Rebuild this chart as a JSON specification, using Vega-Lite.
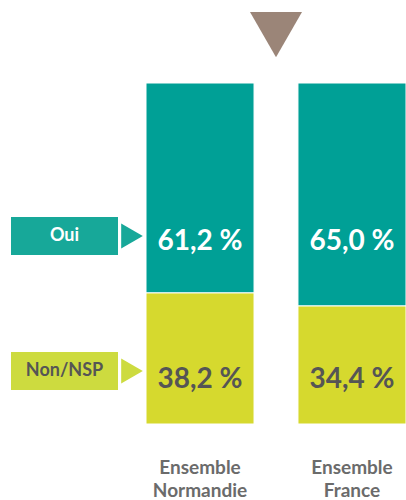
{
  "$schema": "https://vega.github.io/schema/vega-lite/v6.json",
  "padding": {"left": 11, "top": 12, "right": 0, "bottom": 2},
  "bounds": "flush",
  "spacing": 0,
  "config": {
    "view": {"stroke": null},
    "font": "Lato",
    "locale": {
      "number": {
        "decimal": ",",
        "thousands": "\u00a0",
        "grouping": [3],
        "currency": ["", "\u00a0€"],
        "percent": "\u00a0%"
      }
    }
  },
  "datasets": {
    "resultats": [
      {"groupe": "Ensemble Normandie", "reponse": "Oui", "part": 0.612},
      {"groupe": "Ensemble Normandie", "reponse": "Non/NSP", "part": 0.382},
      {"groupe": "Ensemble France", "reponse": "Oui", "part": 0.650},
      {"groupe": "Ensemble France", "reponse": "Non/NSP", "part": 0.344}
    ],
    "reponses": [
      {"reponse": "Oui"},
      {"reponse": "Non/NSP"}
    ],
    "repere": [
      {"repere": "écart"}
    ]
  },
  "hconcat": [
    {
      "width": 107,
      "height": 341,
      "data": {"name": "reponses"},
      "encoding": {
        "y": {
          "field": "reponse",
          "type": "nominal",
          "sort": ["Oui", "Non/NSP"],
          "axis": null,
          "scale": {"type": "band", "domain": ["Oui", "Non/NSP"], "paddingInner": 0.71852, "paddingOuter": 0.62222, "align": 0.79762}
        }
      },
      "layer": [
        {
          "mark": {"type": "bar"},
          "encoding": {
            "color": {
              "field": "reponse",
              "type": "nominal",
              "legend": null,
              "scale": {"domain": ["Oui", "Non/NSP"], "range": ["#17a899", "#cddb3f"]}
            }
          }
        },
        {
          "mark": {"type": "text", "fontSize": 18, "fontWeight": "bold"},
          "encoding": {
            "text": {"field": "reponse", "type": "nominal"},
            "color": {
              "condition": {"test": "datum.reponse === 'Oui'", "value": "#ffffff"},
              "value": "#555555"
            }
          }
        }
      ]
    },
    {
      "width": 28,
      "height": 341,
      "data": {"name": "reponses"},
      "mark": {"type": "point", "shape": "triangle-right", "filled": true, "size": 625, "opacity": 1},
      "encoding": {
        "y": {
          "field": "reponse",
          "type": "nominal",
          "sort": ["Oui", "Non/NSP"],
          "axis": null,
          "scale": {"type": "band", "domain": ["Oui", "Non/NSP"], "paddingInner": 0.71852, "paddingOuter": 0.62222, "align": 0.79762}
        },
        "color": {
          "field": "reponse",
          "type": "nominal",
          "legend": null,
          "scale": {"domain": ["Oui", "Non/NSP"], "range": ["#17a899", "#cddb3f"]}
        }
      }
    },
    {
      "width": 260,
      "height": 341,
      "layer": [
        {
          "data": {"name": "resultats"},
          "mark": {"type": "bar", "stroke": "#ffffff", "strokeWidth": 1},
          "encoding": {
            "x": {
              "field": "groupe",
              "type": "nominal",
              "sort": ["Ensemble Normandie", "Ensemble France"],
              "scale": {"paddingInner": 0.289, "paddingOuter": 0},
              "axis": {
                "title": null,
                "domain": false,
                "ticks": false,
                "tickSize": 0,
                "labelAngle": 0,
                "labelFont": "Lato",
                "labelFontSize": 19,
                "labelFontWeight": "bold",
                "labelColor": "#6b6b6b",
                "labelPadding": 34,
                "labelLineHeight": 23,
                "labelBaseline": "top",
                "labelExpr": "split(datum.label, ' ')"
              }
            },
            "y": {
              "field": "part",
              "type": "quantitative",
              "stack": "zero",
              "scale": {"domain": [0, 0.994], "nice": false},
              "axis": null
            },
            "color": {
              "field": "reponse",
              "type": "nominal",
              "legend": null,
              "scale": {"domain": ["Oui", "Non/NSP"], "range": ["#00a096", "#d6d92e"]}
            },
            "order": {"field": "reponse", "sort": "ascending"}
          }
        },
        {
          "data": {"name": "resultats"},
          "mark": {"type": "text", "fontSize": 28, "fontWeight": "bold"},
          "encoding": {
            "x": {"field": "groupe", "type": "nominal", "sort": ["Ensemble Normandie", "Ensemble France"]},
            "y": {
              "field": "reponse",
              "type": "nominal",
              "axis": null,
              "scale": {"type": "band", "domain": ["Oui", "Non/NSP"], "paddingInner": 0.72, "paddingOuter": 0.5956, "align": 0.8498}
            },
            "text": {"field": "part", "type": "quantitative", "format": ".1%"},
            "color": {
              "condition": {"test": "datum.reponse === 'Oui'", "value": "#ffffff"},
              "value": "#555555"
            }
          }
        },
        {
          "data": {"name": "repere"},
          "mark": {"type": "point", "shape": "triangle-down", "filled": true, "size": 2704, "opacity": 1, "color": "#9b8578"},
          "encoding": {
            "y": {
              "datum": 1.135,
              "type": "quantitative",
              "scale": {"domain": [0, 0.994], "nice": false},
              "axis": null
            }
          }
        }
      ],
      "resolve": {"scale": {"y": "independent", "color": "independent"}}
    }
  ]
}
